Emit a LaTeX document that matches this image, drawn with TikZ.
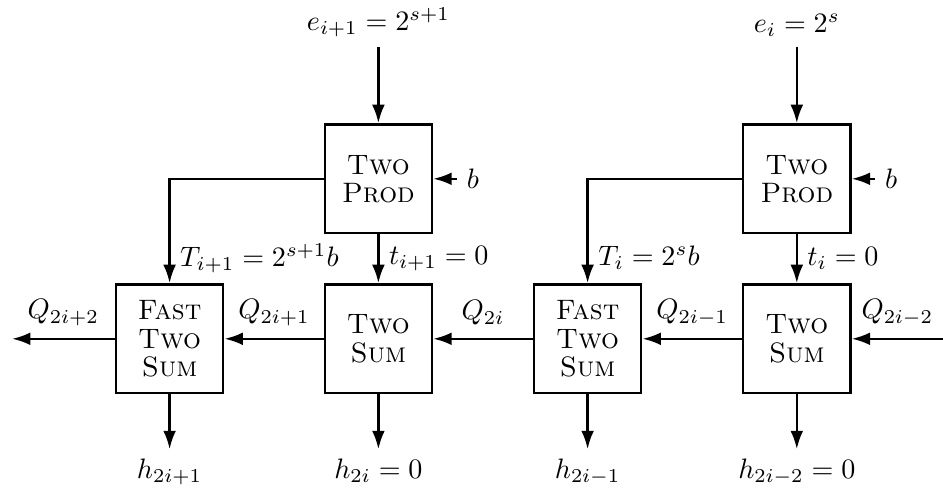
\documentclass[tikz,border=0pt]{standalone}
\usetikzlibrary{arrows.meta}
\begin{document}
\begin{tikzpicture}[>={Latex[length=2.3mm,width=1.6mm]},
  blk/.style={draw,line width=0.9pt,minimum width=1.34cm,minimum height=1.36cm,align=center,inner sep=1pt,font=\fontsize{10pt}{10pt}\selectfont}]
\useasboundingbox (0,0) rectangle (11.7875,6.125);
% Two Prod blocks
\node[blk] (tpa) at (4.73,3.89) {\textsc{Two}\\\textsc{Prod}};
\node[blk] (tpb) at (9.96,3.89) {\textsc{Two}\\\textsc{Prod}};
% sum blocks
\node[blk] (fsa) at (2.12,1.89) {\textsc{Fast}\\\textsc{Two}\\\textsc{Sum}};
\node[blk] (tsa) at (4.73,1.89) {\textsc{Two}\\\textsc{Sum}};
\node[blk] (fsb) at (7.345,1.89) {\textsc{Fast}\\\textsc{Two}\\\textsc{Sum}};
\node[blk] (tsb) at (9.96,1.89) {\textsc{Two}\\\textsc{Sum}};
% inputs
\node[anchor=south] (ea) at (4.73,5.54) {$e_{i+1}=2^{s+1}$};
\node[anchor=south] (eb) at (9.96,5.54) {$e_i=2^s$};
\node (ba) at (5.91,3.89) {$b$};
\node (bb) at (11.14,3.89) {$b$};
\coordinate (qin) at (11.7875,1.89);
% outputs
\node[anchor=north] (ha) at (2.12,0.51) {$h_{2i+1}$};
\node[anchor=north] (hb) at (4.73,0.51) {$h_{2i}=0$};
\node[anchor=north] (hc) at (7.345,0.51) {$h_{2i-1}$};
\node[anchor=north] (hd) at (9.96,0.51) {$h_{2i-2}=0$};
\coordinate (qout) at (0.15,1.89);
% products
\draw[->,line width=0.9pt] (ea) -- (tpa);
\draw[->,line width=0.9pt] (eb) -- (tpb);
\draw[->,line width=0.9pt] (ba) -- (tpa);
\draw[->,line width=0.9pt] (bb) -- (tpb);
\draw[->,line width=0.9pt] (tpa.west) -| node[right,pos=0.88] {$T_{i+1}=2^{s+1}b$} (fsa.north);
\draw[->,line width=0.9pt] (tpb.west) -| node[right,pos=0.88] {$T_i=2^sb$} (fsb.north);
\draw[->,line width=0.9pt] (tpa) -- node[right] {$t_{i+1}=0$} (tsa);
\draw[->,line width=0.9pt] (tpb) -- node[right] {$t_i=0$} (tsb);
% chain of sums
\draw[->,line width=0.9pt] (qin) -- node[above=1pt] {$Q_{2i-2}$} (tsb);
\draw[->,line width=0.9pt] (tsb) -- node[above=1pt] {$Q_{2i-1}$} (fsb);
\draw[->,line width=0.9pt] (fsb) -- node[above=1pt] {$Q_{2i}$} (tsa);
\draw[->,line width=0.9pt] (tsa) -- node[above=1pt] {$Q_{2i+1}$} (fsa);
\draw[->,line width=0.9pt] (fsa) -- node[above=1pt] {$Q_{2i+2}$} (qout);
\draw[->,line width=0.9pt] (fsa) -- (ha);
\draw[->,line width=0.9pt] (tsa) -- (hb);
\draw[->,line width=0.9pt] (fsb) -- (hc);
\draw[->,line width=0.9pt] (tsb) -- (hd);
\end{tikzpicture}
\end{document}
